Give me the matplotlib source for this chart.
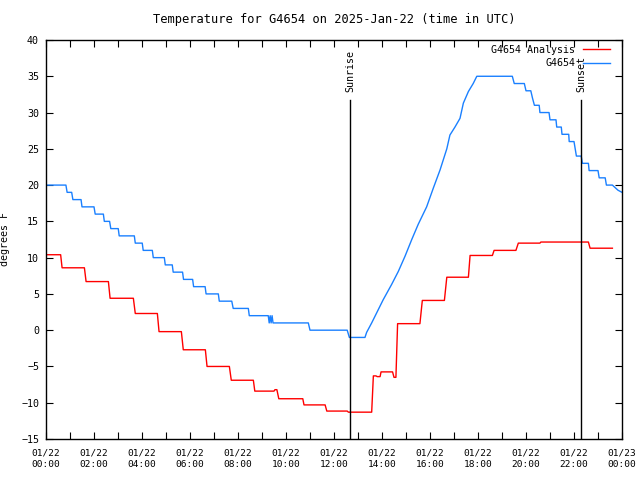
import matplotlib
matplotlib.use('Agg')
import matplotlib.pyplot as plt

# ---------- data (hours after 2025-01-22 00:00 UTC, degrees F) ----------
analysis_t = [0, 0.61, 0.67, 1.6, 1.67, 2.6, 2.67, 3.64, 3.72, 4.64, 4.71, 5.64,
              5.72, 6.64, 6.71, 7.64, 7.72, 8.64, 8.7, 9.5, 9.54, 9.62, 9.7, 10.7,
              10.75, 11.63, 11.7, 12.55, 12.6, 13.57, 13.64, 13.75, 13.8, 13.92,
              13.96, 14.44, 14.5, 14.58, 14.65, 15.58, 15.68, 16.6, 16.7, 17.6,
              17.67, 18.6, 18.67, 19.58, 19.68, 20.58, 20.62, 22.6, 22.67, 23.6]
analysis_v = [10.4, 10.4, 8.6, 8.6, 6.7, 6.7, 4.4, 4.4, 2.3, 2.3, -0.2, -0.2,
              -2.7, -2.7, -5.0, -5.0, -6.9, -6.9, -8.4, -8.4, -8.2, -8.2, -9.45, -9.45,
              -10.3, -10.3, -11.15, -11.15, -11.3, -11.3, -6.3, -6.3, -6.4, -6.4,
              -5.75, -5.75, -6.5, -6.5, 0.9, 0.9, 4.1, 4.1, 7.3, 7.3,
              10.3, 10.3, 11.0, 11.0, 12.0, 12.0, 12.15, 12.15, 11.3, 11.3]

obs_t = [0, 0.83, 0.88, 1.07, 1.12, 1.46, 1.5, 2.0, 2.05, 2.39, 2.43, 2.65, 2.7,
         3.01, 3.05, 3.68, 3.72, 4.01, 4.05, 4.43, 4.47, 4.93, 4.97, 5.26, 5.3,
         5.69, 5.73, 6.11, 6.15, 6.63, 6.67, 7.18, 7.22, 7.74, 7.8, 8.43, 8.47,
         9.26, 9.3, 9.34, 9.38, 9.42, 9.46, 10.93, 11.0, 12.55, 12.64, 13.29,
         13.36, 13.57, 13.78, 14.05, 14.4, 14.68, 14.96, 15.24, 15.51, 15.86,
         16.14, 16.42, 16.7, 16.83, 17.04, 17.25, 17.39, 17.6, 17.8, 17.95,
         19.43, 19.51, 19.93, 20.0, 20.2, 20.27, 20.35, 20.55, 20.58, 20.96,
         21.0, 21.25, 21.28, 21.47, 21.5, 21.78, 21.8, 22.0, 22.05, 22.1, 22.3,
         22.35, 22.6, 22.63, 23.0, 23.05, 23.3, 23.35, 23.6, 23.83, 24.0]
obs_v = [20, 20, 19, 19, 18, 18, 17, 17, 16, 16, 15, 15, 14,
         14, 13, 13, 12, 12, 11, 11, 10, 10, 9, 9, 8,
         8, 7, 7, 6, 6, 5, 5, 4, 4, 3, 3, 2,
         2, 1, 2, 1, 2, 1, 1, 0, 0, -1, -1,
         -0.3, 1.0, 2.4, 4.2, 6.3, 8.1, 10.2, 12.5, 14.6, 17.0,
         19.6, 22.1, 25.0, 26.9, 28.0, 29.2, 31.3, 32.9, 34.0, 35,
         35, 34, 34, 33, 33, 32, 31, 31, 30, 30,
         29, 29, 28, 28, 27, 27, 26, 26, 25, 24, 24,
         23, 23, 22, 22, 21, 21, 20, 20, 19.3, 19]

sunrise = 12.67
sunset = 22.29
marker_top = 31.7

tick_hours = list(range(0, 25, 2))
tick_labels = ["01/22\n%02d:00" % h for h in tick_hours[:-1]] + ["01/23\n00:00"]

# ---------- figure ----------
plt.rcParams['font.family'] = 'DejaVu Sans Mono'
plt.rcParams['font.size'] = 7.2

fig = plt.figure(figsize=(6.4, 4.8), dpi=100)
ax = fig.add_axes([46/640, 1 - 439/480, 576/640, 399/480])

ax.plot(analysis_t, analysis_v, color='#ff0000', lw=1.0, label='G4654 Analysis')
ax.plot(obs_t, obs_v, color='#1a80ff', lw=1.0, label='G4654')

for t, name in [(sunrise, 'Sunrise'), (sunset, 'Sunset')]:
    ax.plot([t, t], [-15, marker_top], color='black', lw=1.0)
    ax.text(t, marker_top + 1.2, name, rotation=90, ha='center', va='bottom')

ax.set_xlim(0, 24)
ax.set_ylim(-15, 40)
ax.set_xticks(tick_hours)
ax.set_xticklabels(tick_labels, fontsize=6.8, linespacing=1.3)
ax.set_xticks(range(1, 24, 2), minor=True)
ax.set_yticks(range(-15, 41, 5))
ax.tick_params(which='both', direction='in', top=True, right=True,
               length=5, width=0.8, pad=5)
ax.tick_params(axis='x', which='both', pad=7)
for s in ax.spines.values():
    s.set_linewidth(1.0)

ax.set_ylabel('degrees F', labelpad=8)
ax.set_title('Temperature for G4654 on 2025-Jan-22 (time in UTC)', pad=12)

ax.legend(loc='upper right', bbox_to_anchor=((610 - 46) / 576, (439 - 45) / 399),
          frameon=False, markerfirst=False, borderpad=0, borderaxespad=0,
          handlelength=2.7, labelspacing=0.35, handletextpad=0.8)

fig.savefig('out.png', dpi=100)
